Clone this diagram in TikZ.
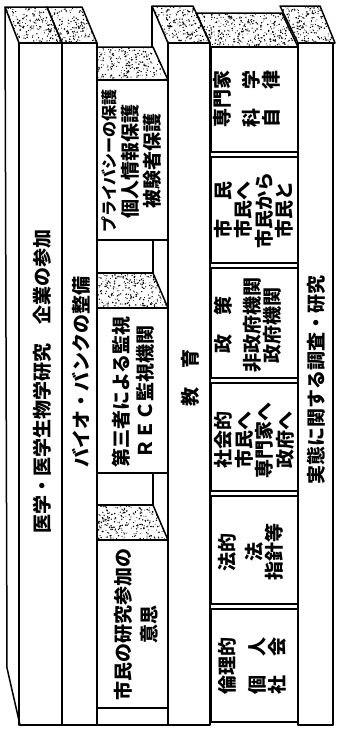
\documentclass[tikz,border=0pt]{standalone}
\usepackage{fontspec}
\newfontfamily\jp{Noto Sans CJK JP}
\newcommand\stipface[5]{%
  \begin{scope}
    \clip #1;
    \pgfmathtruncatemacro\nd{#4*#5/9}
    \foreach \k in {1,...,\nd}{\fill ({#2+rnd*#4},{#3+rnd*#5}) circle ({0.4pt+rnd*0.5pt});}
  \end{scope}
  \draw[edge] #1;
}
\begin{document}
\begin{tikzpicture}[x=1pt,y=-1pt,line join=round,
  edge/.style={line width=1.5pt},
  txt/.style={font=\jp\bfseries\fontsize{19}{#1}\selectfont,rotate=90,inner sep=0pt,align=center},
  txt/.default=20]
\useasboundingbox (0,0) rectangle (338,729);
\pgfmathsetseed{7}
% ---- book 1
\draw[edge] (5,7) -- (7,668) -- (20,725);
\draw[edge] (19,43) rectangle (62,725);
\stipface{(5,7)--(47,7)--(62,43)--(19,43)--cycle}{5}{7}{57}{36}
% ---- book 2
\stipface{(47,7)--(82,7)--(97,43)--(62,43)--cycle}{47}{7}{50}{36}
\draw[edge] (62,43) rectangle (97,725);
% ---- column 3
\stipface{(97,47)--(153,47)--(168,80)--(97,80)--cycle}{97}{47}{71}{33}
\draw[edge] (97,80) rectangle (168,240);
\draw[edge] (97,240) rectangle (153,273);
\stipface{(97,273)--(153,273)--(168,308)--(97,308)--cycle}{97}{273}{71}{35}
\draw[edge] (97,308) rectangle (168,473);
\draw[edge] (97,473) rectangle (153,505);
\stipface{(97,505)--(153,505)--(168,540)--(97,540)--cycle}{97}{505}{71}{35}
\draw[edge] (97,540) rectangle (168,708);
\draw[edge] (97,708) -- (97,725) -- (168,725);
% ---- education book
\stipface{(152,6)--(193,6)--(210,43)--(168,43)--cycle}{152}{6}{58}{37}
\draw[edge] (152,6) -- (152,47);
\draw[edge] (168,43) rectangle (210,725);
% ---- column 5
\stipface{(196,13)--(282,13)--(298,47)--(210,47)--(210,43)--cycle}{196}{13}{102}{34}
\draw[edge] (211,47) rectangle (298,152);
\draw[edge] (211,157) rectangle (298,263);
\draw[edge] (211,268) rectangle (298,378);
\draw[edge] (211,383) rectangle (298,491);
\draw[edge] (211,496) rectangle (298,604);
\draw[edge] (211,609) rectangle (298,722);
% ---- last book
\stipface{(280,6)--(320,6)--(335,43)--(298,43)--cycle}{280}{6}{55}{37}
\draw[edge] (298,43) rectangle (333,725);
% ---- texts
\node[txt] (t1) at (42,381) {医学・医学生物学研究　企業の参加};
\node[txt] (t2) at (81,372) {バイオ・バンクの整備};
\node[txt=22] (t3) at (132,161) {{\fontsize{16}{22}\selectfont プライバシーの保護}\\個人情報保護\\被験者保護};
\node[txt=24] (t4) at (133,392) {第三者による監視\\ＲＥＣ監視機関};
\node[txt=26] (t5) at (136,624) {市民の研究参加の\\意思};
\node[txt] (t6) at (190,378) {教　育};
\node[txt] (t7) at (316,380) {実態に関する調査・研究};
\node[txt] (b1) at (247,99) {専門家\\[9pt]科　学\\自　律};
\node[txt=20.5] (b2) at (254,210) {市　民\\市民へ\\市民から\\市民と};
\node[txt] (b3) at (247.5,325) {政　策\\[9pt]非政府機関\\政府機関};
\node[txt=20.5] (b4) at (254.5,440) {社会的\\市民へ\\専門家へ\\政府へ};
\node[txt] (b5) at (251,552) {法的\\[7pt]法\\指針等};
\node[txt] (b6) at (252,666) {倫理的\\[10pt]個　人\\社　会};
\end{tikzpicture}
\end{document}
